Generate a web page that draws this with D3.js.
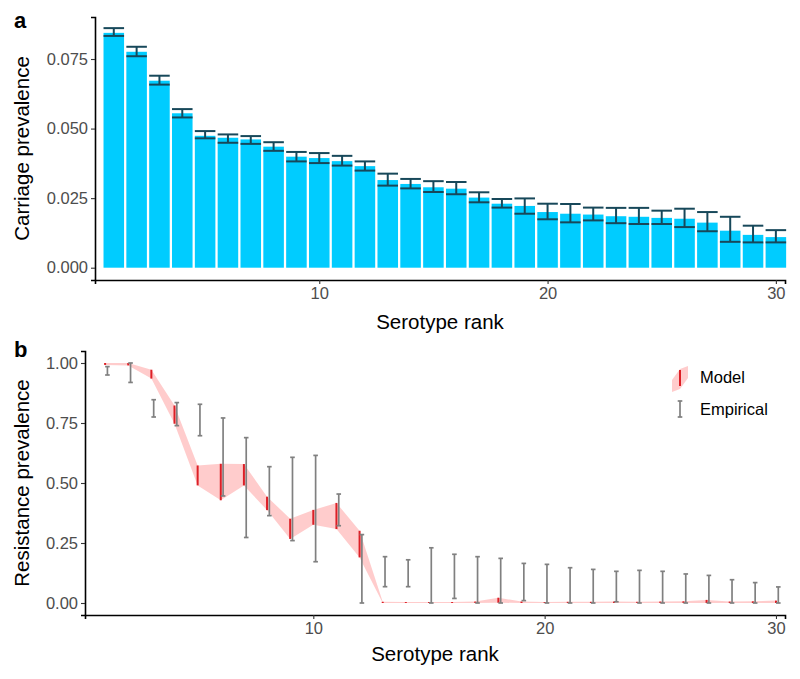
<!DOCTYPE html>
<html>
<head>
<meta charset="utf-8">
<script src="https://cdn.jsdelivr.net/npm/d3@7"></script>
<style>
  html, body { margin: 0; padding: 0; background: #fff; }
  svg { display: block; font-family: "Liberation Sans", Arial, Helvetica, sans-serif; }
</style>
</head>
<body>
<svg id="chart" width="800" height="679"></svg>
<script>
// ---------------- DATA ----------------
const ranks = [1,2,3,4,5,6,7,8,9,10,11,12,13,14,15,16,17,18,19,20,21,22,23,24,25,26,27,28,29,30];
const xTicks = [10, 20, 30];

// Panel a: carriage prevalence
const carriage   = [0.0844,0.0776,0.0672,0.0555,0.0474,0.0467,0.0461,0.0435,0.0399,0.0394,0.0383,0.0365,0.0315,0.0301,0.0289,0.0284,0.0252,0.0230,0.0222,0.0200,0.0194,0.0191,0.0185,0.0183,0.0179,0.0176,0.0162,0.0133,0.0118,0.0110];
const carriageLo = [0.0833,0.0760,0.0658,0.0540,0.0465,0.0449,0.0445,0.0420,0.0382,0.0376,0.0367,0.0349,0.0295,0.0285,0.0272,0.0264,0.0235,0.0216,0.0194,0.0174,0.0163,0.0170,0.0160,0.0157,0.0157,0.0146,0.0131,0.0093,0.0091,0.0091];
const carriageHi = [0.0861,0.0794,0.0690,0.0570,0.0491,0.0479,0.0473,0.0451,0.0416,0.0412,0.0402,0.0382,0.0338,0.0319,0.0311,0.0308,0.0271,0.0247,0.0249,0.0230,0.0229,0.0216,0.0215,0.0215,0.0205,0.0212,0.0200,0.0183,0.0151,0.0135];
const yTicksA = [0.000, 0.025, 0.050, 0.075];

// Panel b: resistance prevalence
const modelLo = [0.992,0.990,0.935,0.747,0.490,0.428,0.490,0.387,0.267,0.326,0.308,0.190,0.000,0.000,0.000,0.000,0.000,0.001,0.000,0.000,0.000,0.000,0.000,0.000,0.000,0.000,0.000,0.000,0.000,0.000];
const modelHi = [1.000,1.000,0.972,0.823,0.573,0.580,0.579,0.443,0.351,0.388,0.417,0.301,0.005,0.004,0.004,0.004,0.006,0.022,0.006,0.004,0.005,0.005,0.006,0.005,0.006,0.007,0.013,0.006,0.007,0.010];
const empLo   = [0.950,0.919,0.775,0.739,0.697,0.446,0.273,0.364,0.260,0.172,0.322,0.000,0.068,0.068,0.000,0.019,0.000,0.000,0.010,0.000,0.000,0.000,0.005,0.000,0.000,0.000,0.000,0.000,0.000,0.000];
const empHi   = [0.985,1.000,0.847,0.835,0.828,0.771,0.689,0.568,0.607,0.615,0.454,0.285,0.193,0.180,0.230,0.203,0.193,0.186,0.165,0.161,0.147,0.140,0.132,0.136,0.132,0.121,0.115,0.097,0.085,0.067];
const yTicksB = [0.00, 0.25, 0.50, 0.75, 1.00];
const legendLabels = ["Model", "Empirical"];

// ---------------- STYLE ----------------
const barColor = "#00ccff";
const errColA = "#17485a";
const ribbonCol = "#ff0000";
const modelCol = "#dd1f26";
const empCol = "#808080";
const tickLabCol = "#4d4d4d";

const svg = d3.select("#chart");

function axisStyle(g) {
  g.select(".domain").attr("stroke", "#000").attr("stroke-width", 1.6);
  g.selectAll(".tick line").attr("stroke", "#333").attr("stroke-width", 1.1);
  g.selectAll(".tick text").attr("fill", tickLabCol).style("font-size", "16.5px")
    .style("font-family", '"Liberation Sans", Arial, sans-serif');
}

// ---------------- PANEL A ----------------
{
  const x = d3.scaleLinear().domain([0.177, 30.40]).range([95, 785]);
  const y = d3.scaleLinear().domain([-0.00442, 0.0901]).range([280, 17]);
  const bw = x(1.9) - x(1.0);
  const gA = svg.append("g");

  gA.selectAll("rect.bar").data(ranks).join("rect")
    .attr("class", "bar")
    .attr("x", d => x(d) - bw / 2)
    .attr("width", bw)
    .attr("y", (d, i) => y(carriage[i]))
    .attr("height", (d, i) => y(0) - y(carriage[i]))
    .attr("fill", barColor);

  const eb = gA.selectAll("g.eb").data(ranks).join("g").attr("class", "eb")
    .attr("stroke", errColA).attr("stroke-width", 2);
  eb.append("line").attr("x1", d => x(d)).attr("x2", d => x(d))
    .attr("y1", (d, i) => y(carriageLo[i])).attr("y2", (d, i) => y(carriageHi[i]));
  eb.append("line").attr("x1", d => x(d) - bw / 2).attr("x2", d => x(d) + bw / 2)
    .attr("y1", (d, i) => y(carriageLo[i])).attr("y2", (d, i) => y(carriageLo[i]));
  eb.append("line").attr("x1", d => x(d) - bw / 2).attr("x2", d => x(d) + bw / 2)
    .attr("y1", (d, i) => y(carriageHi[i])).attr("y2", (d, i) => y(carriageHi[i]));

  gA.append("g").attr("transform", "translate(0,280)")
    .call(d3.axisBottom(x).tickValues(xTicks).tickFormat(d3.format("d")).tickSizeOuter(0).tickSize(4).tickPadding(3))
    .call(axisStyle);
  gA.append("g").attr("transform", "translate(95,0)")
    .call(d3.axisLeft(y).tickValues(yTicksA).tickFormat(d3.format(".3f")).tickSizeOuter(0).tickSize(4).tickPadding(3))
    .call(axisStyle);

  gA.append("text").attr("x", 440).attr("y", 329).attr("text-anchor", "middle")
    .style("font-size", "20.5px").text("Serotype rank");
  gA.append("text").attr("transform", "translate(29,148.5) rotate(-90)").attr("text-anchor", "middle")
    .style("font-size", "20.5px").text("Carriage prevalence");
  gA.append("text").attr("x", 14).attr("y", 28).style("font-size", "22px").style("font-weight", "bold").text("a");
}

// ---------------- PANEL B ----------------
{
  const x = d3.scaleLinear().domain([0.131, 30.39]).range([85, 785]);
  const y = d3.scaleLinear().domain([-0.05, 1.05]).range([615, 351]);
  const off = 0.1;
  const gB = svg.append("g");

  const area = d3.area()
    .x(d => x(d))
    .y0((d, i) => y(modelLo[i]))
    .y1((d, i) => y(modelHi[i]));
  gB.append("path").datum(ranks).attr("d", area)
    .attr("fill", ribbonCol).attr("fill-opacity", 0.2);

  gB.selectAll("line.model").data(ranks).join("line").attr("class", "model")
    .attr("x1", d => x(d)).attr("x2", d => x(d))
    .attr("y1", (d, i) => y(modelLo[i])).attr("y2", (d, i) => y(modelHi[i]))
    .attr("stroke", modelCol).attr("stroke-width", 2);

  const cw = 2.3;
  const eb = gB.selectAll("g.emp").data(ranks).join("g").attr("class", "emp")
    .attr("stroke", empCol).attr("stroke-width", 1.7);
  eb.append("line").attr("x1", d => x(d + off)).attr("x2", d => x(d + off))
    .attr("y1", (d, i) => y(empLo[i])).attr("y2", (d, i) => y(empHi[i]));
  eb.append("line").attr("x1", d => x(d + off) - cw).attr("x2", d => x(d + off) + cw)
    .attr("y1", (d, i) => y(empLo[i])).attr("y2", (d, i) => y(empLo[i]));
  eb.append("line").attr("x1", d => x(d + off) - cw).attr("x2", d => x(d + off) + cw)
    .attr("y1", (d, i) => y(empHi[i])).attr("y2", (d, i) => y(empHi[i]));

  gB.append("g").attr("transform", "translate(0,615)")
    .call(d3.axisBottom(x).tickValues(xTicks).tickFormat(d3.format("d")).tickSizeOuter(0).tickSize(4).tickPadding(3))
    .call(axisStyle);
  gB.append("g").attr("transform", "translate(85,0)")
    .call(d3.axisLeft(y).tickValues(yTicksB).tickFormat(d3.format(".2f")).tickSizeOuter(0).tickSize(4).tickPadding(3))
    .call(axisStyle);

  gB.append("text").attr("x", 435).attr("y", 661).attr("text-anchor", "middle")
    .style("font-size", "20.5px").text("Serotype rank");
  gB.append("text").attr("transform", "translate(29,483) rotate(-90)").attr("text-anchor", "middle")
    .style("font-size", "20.5px").text("Resistance prevalence");
  gB.append("text").attr("x", 14).attr("y", 357).style("font-size", "22px").style("font-weight", "bold").text("b");

  // Legend
  const lg = gB.append("g").attr("transform", "translate(680,0)");
  lg.append("path").attr("d", "M-8,380 L0,369 L8,366 L8,378 L0,389 L-8,392 Z")
    .attr("fill", ribbonCol).attr("fill-opacity", 0.2);
  lg.append("line").attr("x1", 0).attr("x2", 0).attr("y1", 370).attr("y2", 386)
    .attr("stroke", modelCol).attr("stroke-width", 2);
  const le = lg.append("g").attr("stroke", empCol).attr("stroke-width", 1.7);
  le.append("line").attr("x1", 0).attr("x2", 0).attr("y1", 401).attr("y2", 417);
  le.append("line").attr("x1", -cw).attr("x2", cw).attr("y1", 401).attr("y2", 401);
  le.append("line").attr("x1", -cw).attr("x2", cw).attr("y1", 417).attr("y2", 417);
  lg.selectAll("text.leg").data(legendLabels).join("text").attr("class", "leg")
    .attr("x", 20).attr("y", (d, i) => 383 + i * 32)
    .style("font-size", "16.5px").text(d => d);
}
</script>
</body>
</html>
